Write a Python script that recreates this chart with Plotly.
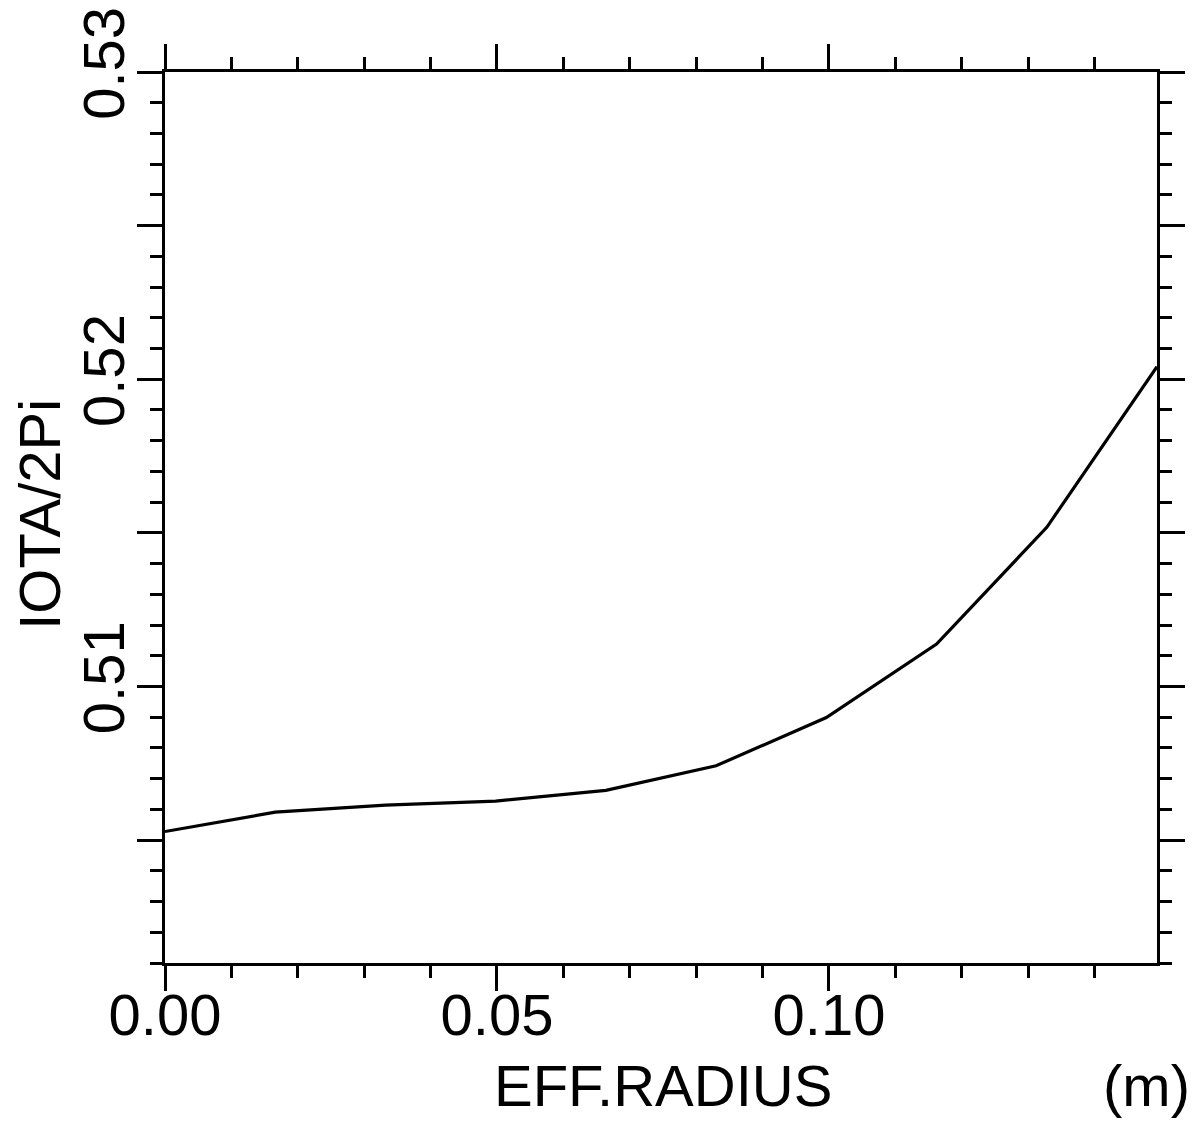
import plotly.graph_objects as go

# Data
eff_radius = [0.0, 0.0166, 0.0332, 0.0498, 0.0664, 0.0830, 0.0996, 0.1162, 0.1328, 0.1494]
iota_2pi = [0.50528, 0.50591, 0.50614, 0.50627, 0.50662, 0.50742, 0.50899, 0.51138, 0.51518, 0.52041]

x_tickvals = [0.0, 0.05, 0.10]
x_ticktext = ["0.00", "0.05", "0.10"]
y_tickvals = [0.505, 0.51, 0.515, 0.52, 0.525, 0.53]
y_ticktext = ["", "0.51", "", "0.52", "", "0.53"]

FONT = "Liberation Sans"
FS = 58

fig = go.Figure()
fig.add_trace(go.Scatter(
    x=eff_radius, y=iota_2pi, mode="lines",
    line=dict(color="black", width=3.2),
    cliponaxis=False, showlegend=False,
))

axis_common = dict(
    showgrid=False, zeroline=False, automargin=False,
    showline=True, linecolor="black", linewidth=3,
    ticks="outside", ticklen=25, tickwidth=3, tickcolor="black",
    mirror="ticks", ticklabeloverflow="allow",
    tickfont=dict(family=FONT, size=FS, color="black"),
)

fig.update_xaxes(
    range=[0, 0.1494],
    tickmode="array", tickvals=x_tickvals, ticktext=x_ticktext,
    ticklabelstandoff=-26,
    minor=dict(dtick=0.01, tick0=0, ticklen=12, tickwidth=3, tickcolor="black", ticks="outside"),
    **axis_common,
)
fig.update_yaxes(
    range=[0.501, 0.53],
    tickmode="array", tickvals=y_tickvals, ticktext=y_ticktext,
    tickangle=-90, ticklabelstandoff=-10,
    minor=dict(dtick=0.001, tick0=0.5, ticklen=12, tickwidth=3, tickcolor="black", ticks="outside"),
    **axis_common,
)

fig.add_annotation(
    text="EFF.RADIUS", xref="paper", yref="paper", x=0.502, y=-0.137,
    xanchor="center", yanchor="middle", showarrow=False,
    font=dict(family=FONT, size=FS, color="black"),
)
fig.add_annotation(
    text="(m)", xref="paper", yref="paper", x=1.035, y=-0.137,
    xanchor="right", yanchor="middle", showarrow=False,
    font=dict(family=FONT, size=FS, color="black"),
)
fig.add_annotation(
    text="IOTA/2Pi", xref="paper", yref="paper", x=-0.126, y=0.503,
    xanchor="center", yanchor="middle", textangle=-90, showarrow=False,
    font=dict(family=FONT, size=FS, color="black"),
)

fig.update_layout(
    width=1191, height=1113,
    margin=dict(l=157, r=42, t=64, b=158),
    paper_bgcolor="white", plot_bgcolor="white",
)

fig.write_html("out.html")
